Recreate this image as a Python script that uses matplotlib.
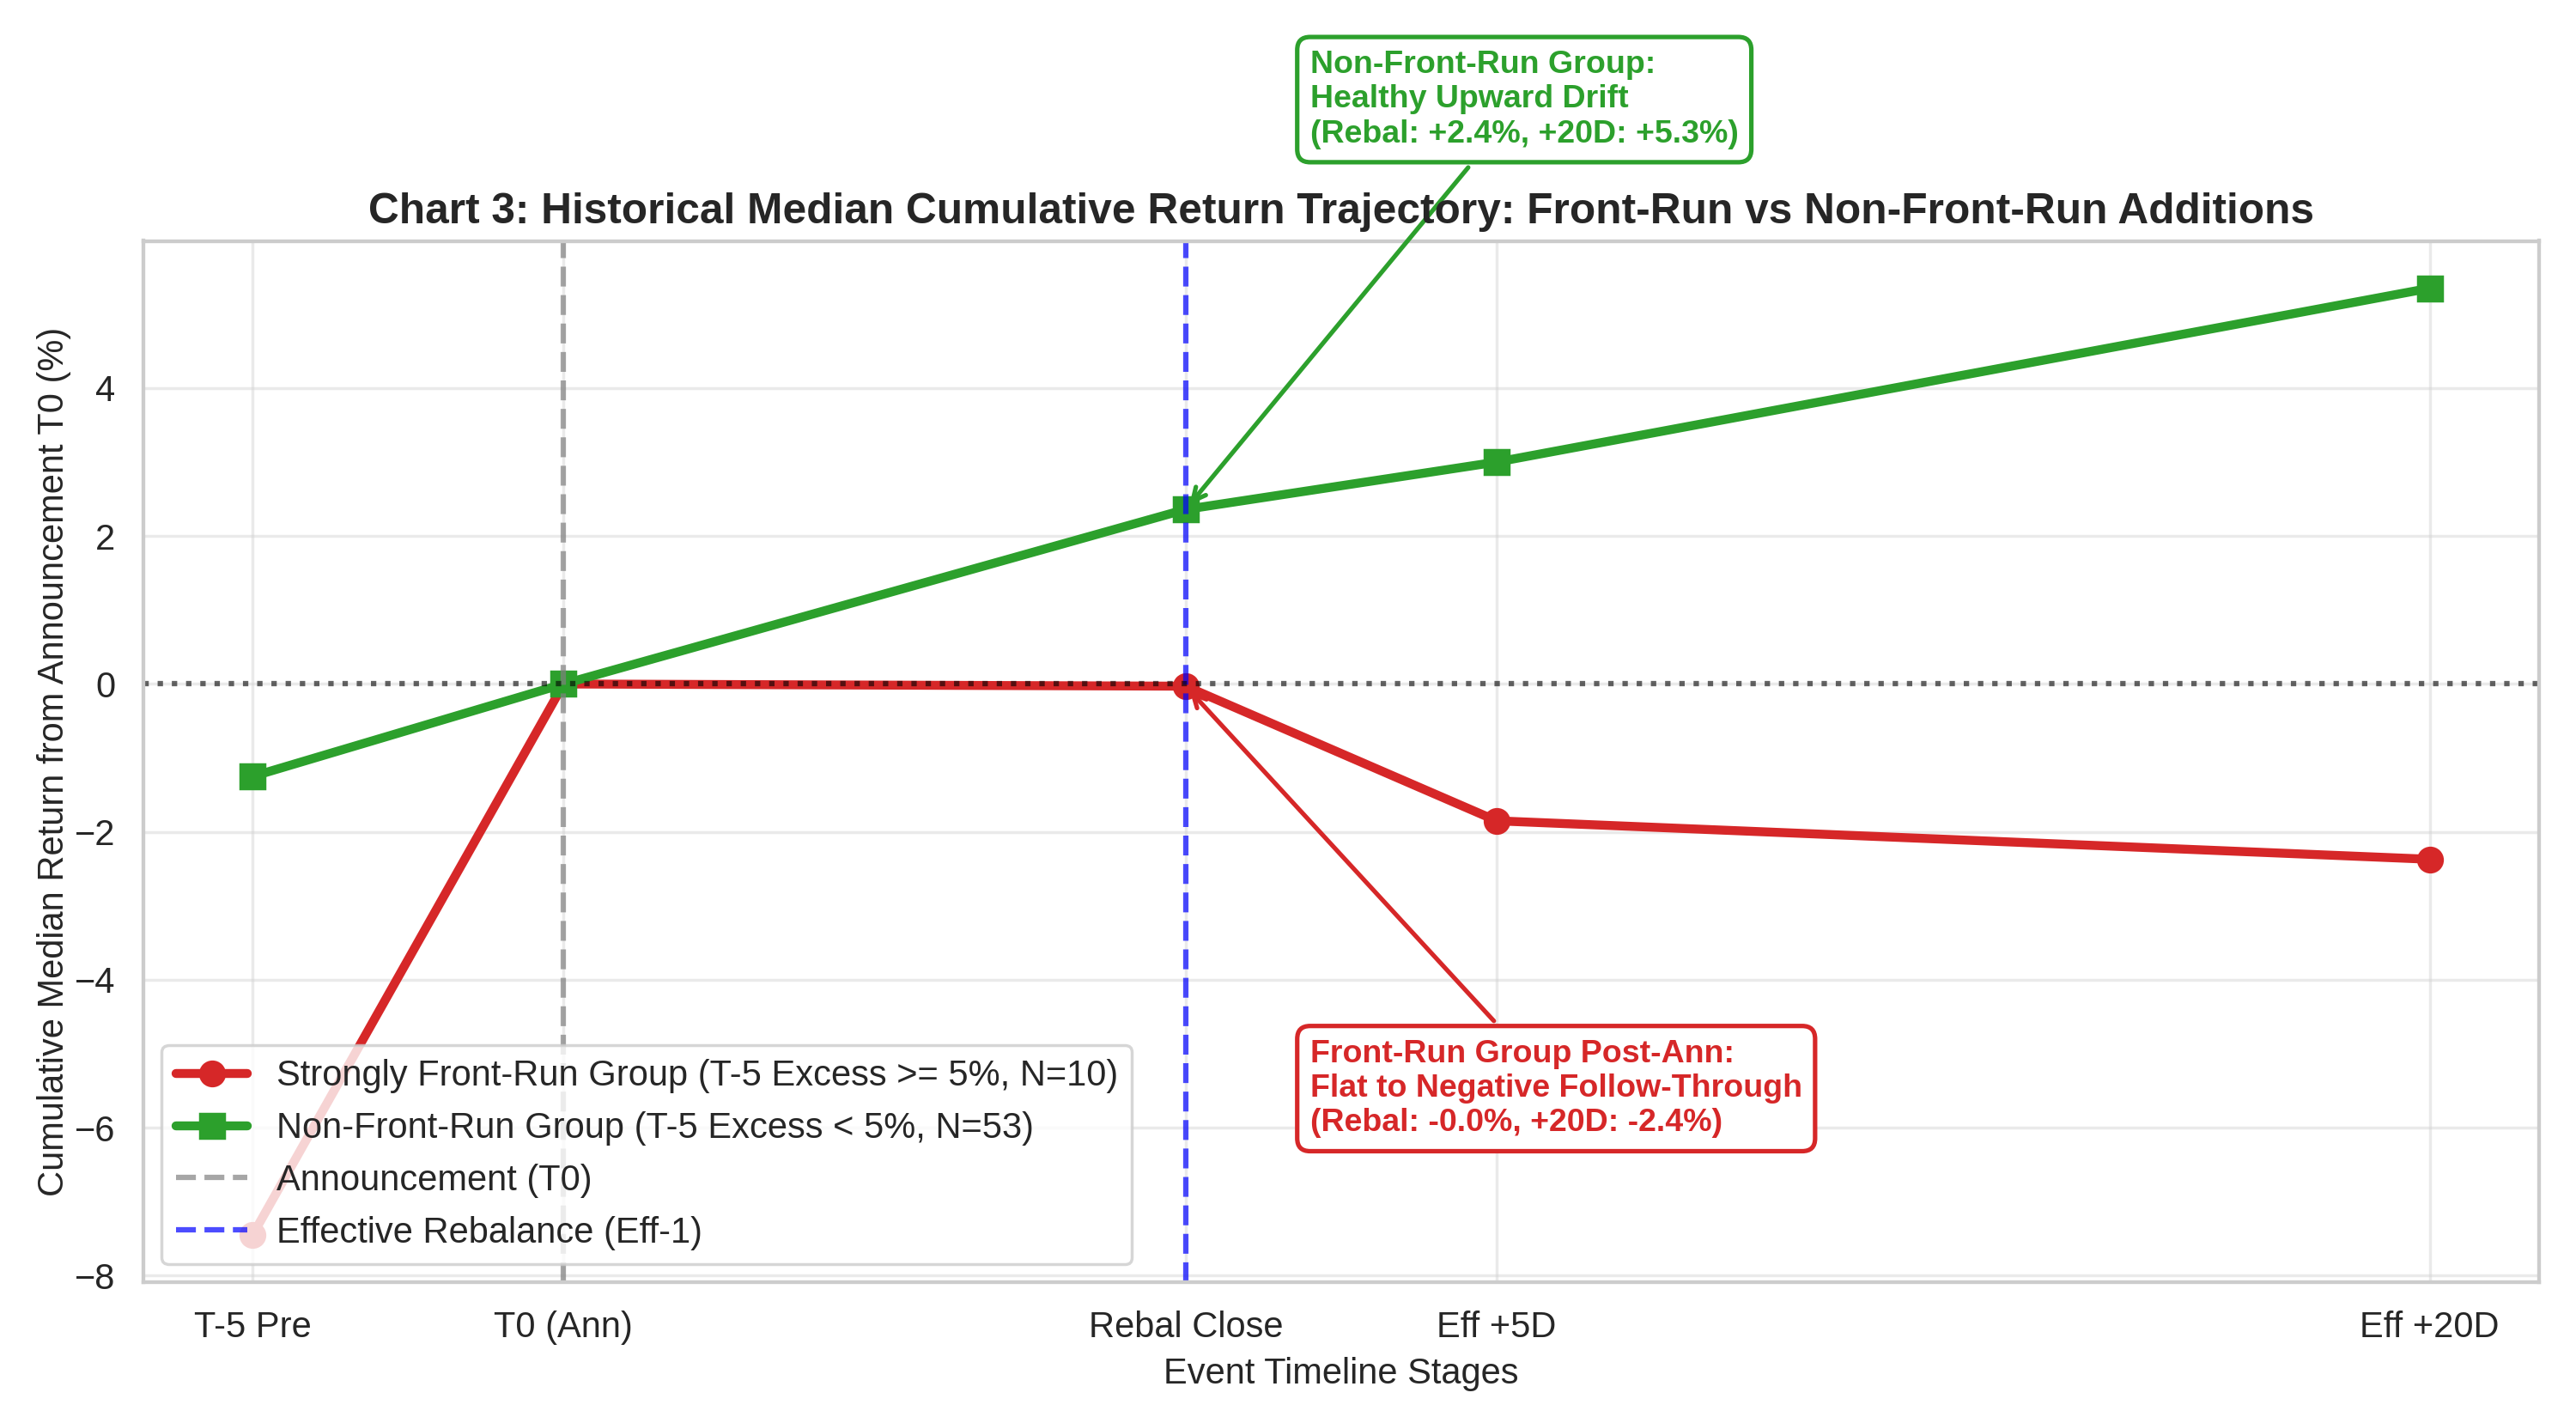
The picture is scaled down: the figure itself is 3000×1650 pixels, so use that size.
import matplotlib
matplotlib.use("Agg")
import matplotlib.pyplot as plt
import seaborn as sns

stage_labels = ["T-5 Pre", "T0 (Ann)", "Rebal Close", "Eff +5D", "Eff +20D"]
stage_days = [-5, 0, 10, 15, 30]
front_run = [-7.45, 0.0, -0.03, -1.85, -2.37]
non_front_run = [-1.25, 0.0, 2.36, 3.0, 5.35]

sns.set_theme(style="whitegrid")
plt.rcParams['font.family'] = ['Liberation Sans', 'DejaVu Sans']

fig, ax = plt.subplots(figsize=(12, 6.6), dpi=250)
fig.subplots_adjust(left=0.0558, right=0.9855, top=0.830, bottom=0.095)

ax.plot(stage_days, front_run, color='#d62728', marker='o', lw=3, markersize=8,
        label='Strongly Front-Run Group (T-5 Excess >= 5%, N=10)')
ax.plot(stage_days, non_front_run, color='#2ca02c', marker='s', lw=3, markersize=8,
        label='Non-Front-Run Group (T-5 Excess < 5%, N=53)')
ax.axvline(0, color='gray', ls='--', lw=1.8, alpha=0.7, label='Announcement (T0)')
ax.axvline(10, color='blue', ls='--', lw=1.8, alpha=0.7, label='Effective Rebalance (Eff-1)')
ax.axhline(0, color='black', ls=':', lw=1.8, alpha=0.6)
ax.grid(True, alpha=0.4)

ax.set_xticks(stage_days)
ax.set_xticklabels(stage_labels, fontsize=12)
ax.tick_params(axis='y', labelsize=12)
ax.set_xlabel('Event Timeline Stages', fontsize=12)
ax.set_ylabel('Cumulative Median Return from Announcement T0 (%)', fontsize=12, labelpad=1)
ax.set_title('Chart 3: Historical Median Cumulative Return Trajectory: Front-Run vs Non-Front-Run Additions',
             fontsize=14.3, fontweight='bold')

ax.annotate('Non-Front-Run Group:\nHealthy Upward Drift\n(Rebal: +2.4%, +20D: +5.3%)',
            xy=(stage_days[2], non_front_run[2]), xytext=(12, 7.9),
            ha='left', va='center', fontsize=10.8, fontweight='bold', color='#2ca02c',
            bbox=dict(boxstyle='round,pad=0.4', fc='white', ec='#2ca02c', lw=1.5),
            arrowprops=dict(arrowstyle='->', color='#2ca02c', lw=1.5),
            annotation_clip=False)
ax.annotate('Front-Run Group Post-Ann:\nFlat to Negative Follow-Through\n(Rebal: -0.0%, +20D: -2.4%)',
            xy=(stage_days[2], front_run[2]), xytext=(12, -5.47),
            ha='left', va='center', fontsize=10.8, fontweight='bold', color='#d62728',
            bbox=dict(boxstyle='round,pad=0.4', fc='white', ec='#d62728', lw=1.5),
            arrowprops=dict(arrowstyle='->', color='#d62728', lw=1.5))

ax.legend(loc='lower left', fontsize=12, frameon=True, framealpha=0.8)

fig.savefig('out.png', dpi=250)
